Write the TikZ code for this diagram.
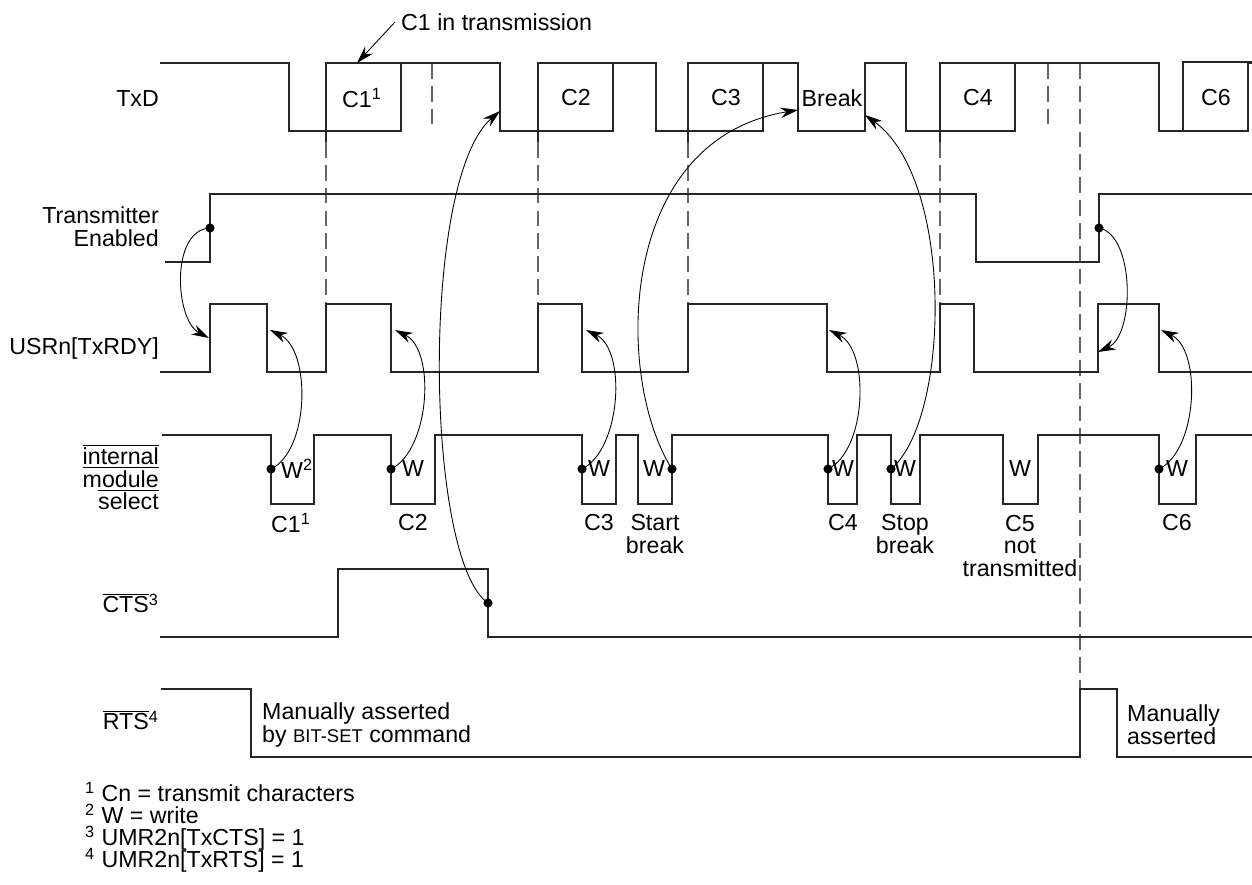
\documentclass[tikz,border=0pt]{standalone}
\usepackage{fontspec}
\setmainfont{Liberation Sans}
\usepackage{tikz}
\usetikzlibrary{arrows.meta}
\newcommand\fnfont{\fontsize{13.2}{12.6}\selectfont\lineskiplimit=-20pt\relax}

\begin{document}
\begin{tikzpicture}[x=0.02cm, y=-0.02cm, font=\fontsize{13.2}{13}\selectfont,
	wv/.style={line width=0.7pt, black!85},
	gd/.style={gray!80!black, line width=0.6pt, dash pattern=on 9pt off 4pt},
	fl/.style={-{Stealth[length=10pt, width=6pt]}, line width=0.5pt},
	dot/.style={circle, fill, inner sep=0pt, minimum size=5.2pt},
	sig/.style={anchor=east, align=right}]
	\useasboundingbox (0,0) rectangle (1252,885);
	% signal names
	\node[sig] (ltxd) at (165,99) {TxD};
	\node[sig] (lten) at (165,227) {Transmitter\\Enabled};
	\node[sig] (lrdy) at (165,349) {USRn[TxRDY]};
	\node[sig] (lims) at (165,477) {$\overline{\mbox{internal}}$\\$\overline{\mbox{module}}$\\$\overline{\mbox{select}}$};
	\node[sig] (lcts) at (165,603) {$\overline{\mbox{CTS}}$\textsuperscript{3}};
	\node[sig] (lrts) at (165,720) {$\overline{\mbox{RTS}}$\textsuperscript{4}};

	% dashed markers
	\draw[gd] (432,63) -- (432,131);
	\draw[gd] (1048,63) -- (1048,131);
	\draw[gd] (326,142) -- (326,304);
	\draw[gd] (538,142) -- (538,304);
	\draw[gd] (688,142) -- (688,304);
	\draw[gd] (940,142) -- (940,304);
	\draw[gd] (1080,63) -- (1080,757);

	% TxD
	\draw[wv] (160,63) -- (289,63) -- (289,131) -- (401,131) -- (401,63) -- (500,63) -- (500,131)
		-- (613,131) -- (613,63) -- (656,63) -- (656,131) -- (763,131) -- (763,63) -- (798,63)
		-- (798,131) -- (865,131) -- (865,63) -- (906,63) -- (906,131) -- (1015,131) -- (1015,63)
		-- (1159,63) -- (1159,131) -- (1248,131) -- (1248,63) -- (1252,63);
	\draw[wv] (326,142) -- (326,63) -- (401,63);
	\draw[wv] (538,142) -- (538,63) -- (613,63);
	\draw[wv] (688,142) -- (688,63) -- (763,63);
	\draw[wv] (940,142) -- (940,63) -- (1015,63);
	\draw[wv] (1183,131) -- (1183,62) -- (1252,62);
	\node (c1) at (362,98) {C1\textsuperscript{1}};
	\node (c2) at (576,98) {C2};
	\node (c3) at (726,98) {C3};
	\node (brk) at (832,98) {Break};
	\node (c4) at (978,98) {C4};
	\node (c6) at (1216,98) {C6};
	\node[anchor=west] (c1lbl) at (395,22) {C1 in transmission};

	% Transmitter Enabled
	\draw[wv] (165,262) -- (210,262) -- (210,194) -- (976,194) -- (976,262) -- (1099,262)
		-- (1099,194) -- (1252,194);

	% USRn[TxRDY]
	\draw[wv] (160,372) -- (210,372) -- (210,304) -- (267,304) -- (267,372) -- (326,372)
		-- (326,304) -- (391,304) -- (391,372) -- (538,372) -- (538,304) -- (582,304) -- (582,372)
		-- (688,372) -- (688,304) -- (827,304) -- (827,372) -- (940,372) -- (940,304) -- (974,304)
		-- (974,372) -- (1098,372) -- (1098,304) -- (1159,304) -- (1159,372) -- (1252,372);

	% internal module select
	\draw[wv] (162,435) -- (271,435) -- (271,504) -- (314,504) -- (314,435) -- (391,435)
		-- (391,504) -- (435,504) -- (435,435) -- (582,435) -- (582,504) -- (616,504) -- (616,435)
		-- (638,435) -- (638,504) -- (672,504) -- (672,435) -- (828,435) -- (828,504) -- (857,504)
		-- (857,435) -- (891,435) -- (891,504) -- (920,504) -- (920,435) -- (1003,435) -- (1003,504)
		-- (1038,504) -- (1038,435) -- (1159,435) -- (1159,504) -- (1196,504) -- (1196,435) -- (1252,435);
	\node[anchor=west] (wr1) at (275,469) {W\textsuperscript{2}};
	\node (wr2) at (413,469) {W};
	\node (wr3) at (599,469) {W};
	\node (wr4) at (654,469) {W};
	\node (wr5) at (843,469) {W};
	\node (wr6) at (905,469) {W};
	\node (wr7) at (1020,469) {W};
	\node (wr8) at (1177,469) {W};
	\node (ch1) at (291,523) {C1\textsuperscript{1}};
	\node (ch2) at (413,523) {C2};
	\node (ch3) at (599,523) {C3};
	\node[align=center] (chsb) at (655,534) {Start\\break};
	\node (ch4) at (843,523) {C4};
	\node[align=center] (chst) at (905,534) {Stop\\break};
	\node[align=center] (ch5) at (1020,546) {C5\\not\\transmitted};
	\node (ch6) at (1177,523) {C6};

	% CTS and RTS
	\draw[wv] (160,637) -- (338,637) -- (338,569) -- (488,569) -- (488,637) -- (1252,637);
	\draw[wv] (161,689) -- (251,689) -- (251,757) -- (1080,757) -- (1080,689) -- (1117,689)
		-- (1117,757) -- (1252,757);
	\node[anchor=west, align=left] (rtsa) at (256,725) {Manually asserted\\by {\fontsize{10.5}{13}\selectfont BIT-SET} command};
	\node[anchor=west, align=left] (rtsb) at (1121,725) {Manually\\asserted};

	% dots and targets
	\node[dot] (te1) at (210,228) {};
	\node[dot] (te2) at (1099,228) {};
	\node[dot] (w1) at (271,469) {};
	\node[dot] (w2) at (391,469) {};
	\node[dot] (w3) at (582,469) {};
	\node[dot] (wsb) at (672,469) {};
	\node[dot] (w4) at (828,469) {};
	\node[dot] (wst) at (891,469) {};
	\node[dot] (w6) at (1159,469) {};
	\node[dot] (cts) at (488,603) {};
	\coordinate (en1) at (209,338);
	\coordinate (en2) at (1098,352);
	\coordinate (rdy1) at (270,330);
	\coordinate (rdy2) at (395,330);
	\coordinate (rdy3) at (586,330);
	\coordinate (rdy4) at (829,330);
	\coordinate (rdy6) at (1161,330);
	\coordinate (brkl) at (798,110);
	\coordinate (brkr) at (865,115);
	\coordinate (txfall) at (500,111);
	\coordinate (c1top) at (357,63);

	% arrows
	\draw[fl] (c1lbl.west) -- (c1top);
	\draw[fl] (te1.center) .. controls (170,230) and (175,320) .. (en1);
	\draw[fl] (te2.center) .. controls (1135,235) and (1135,335) .. (en2);
	\draw[fl] (w1.center) .. controls +(39,-19) and +(41,20) .. (rdy1);
	\draw[fl] (w2.center) .. controls +(39,-19) and +(41,20) .. (rdy2);
	\draw[fl] (w3.center) .. controls +(39,-19) and +(41,20) .. (rdy3);
	\draw[fl] (w4.center) .. controls +(39,-19) and +(41,20) .. (rdy4);
	\draw[fl] (w6.center) .. controls +(39,-19) and +(41,20) .. (rdy6);
	\draw[fl] (wsb.center) .. controls (615,380) and (615,140) .. (brkl);
	\draw[fl] (wst.center) .. controls (950,420) and (955,180) .. (brkr);
	\draw[fl] (cts.center) .. controls (425,560) and (420,180) .. (txfall);

	% footnotes
	\node[anchor=north west, align=left, font=\fnfont] (fn) at (79,776)
		{\textsuperscript{1} Cn = transmit characters\\\textsuperscript{2} W = write\\
		\textsuperscript{3} UMR2n[TxCTS] = 1\\\textsuperscript{4} UMR2n[TxRTS] = 1};
\end{tikzpicture}
\end{document}
